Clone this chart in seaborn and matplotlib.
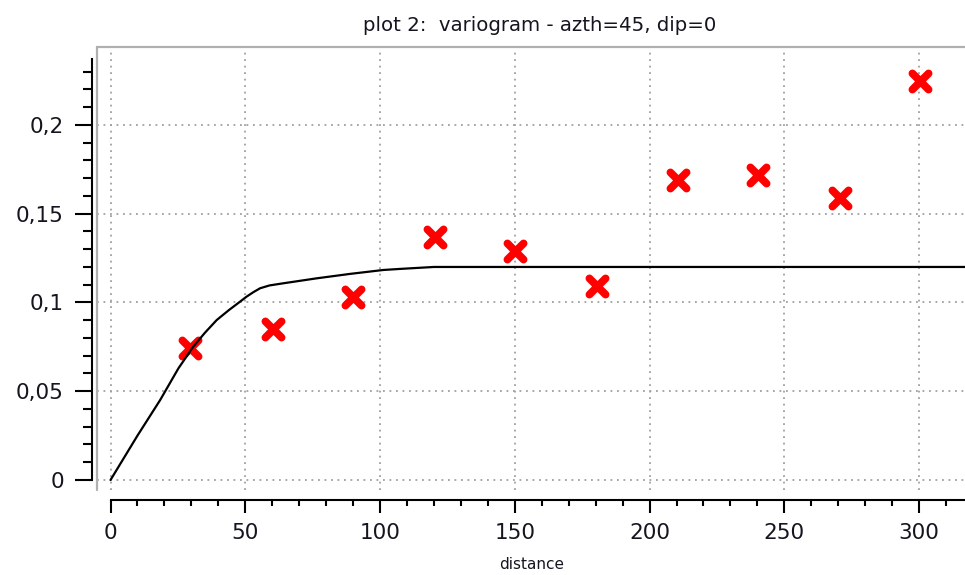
import numpy as np
import matplotlib
matplotlib.use("Agg")
import matplotlib.pyplot as plt
import seaborn as sns
from matplotlib.lines import Line2D
from matplotlib.ticker import FixedLocator, MultipleLocator

# experimental variogram points (lag distance, semivariance)
lag_distance = [29.6, 60.3, 90.1, 120.4, 150.2, 180.6, 210.5, 240.3, 270.6, 300.4]
semivariance = [0.0744, 0.0851, 0.1031, 0.1369, 0.1290, 0.1093, 0.1690, 0.1718, 0.1589, 0.2248]

# fitted variogram model
model_distance = [0, 10, 18.4, 25.2, 30.7, 35.0, 39.4, 44.0, 48.1, 50.5, 53.0, 55.5,
                  59.0, 64.1, 76.5, 88.9, 101.2, 107.4, 120, 330]
model_gamma = [0, 0.025, 0.045, 0.0629, 0.0751, 0.0829, 0.0901, 0.0958, 0.1005,
               0.1033, 0.1058, 0.1080, 0.1096, 0.1108, 0.1136, 0.1161, 0.1183,
               0.1189, 0.12, 0.12]

x_ticks = [0, 50, 100, 150, 200, 250, 300]
x_tick_labels = ["0", "50", "100", "150", "200", "250", "300"]
y_ticks = [0, 0.05, 0.1, 0.15, 0.2]
y_tick_labels = ["0", "0,05", "0,1", "0,15", "0,2"]

title = "plot 2:  variogram - azth=45, dip=0"
x_label = "distance"

sns.set_theme(style="white")
plt.rcParams["font.family"] = ["DejaVu Sans"]

W, H = 965, 575
fig = plt.figure(figsize=(W / 100, H / 100), dpi=100)
ax = fig.add_axes([97 / W, (H - 490) / H, 886 / W, 443 / H])

sns.scatterplot(x=lag_distance, y=semivariance, marker="x", s=135, color="#ff0000",
                linewidth=5.6, ax=ax, zorder=3, legend=False)
ax.collections[-1].set_capstyle("round")
sns.lineplot(x=model_distance, y=model_gamma, color="black", linewidth=1.6,
             estimator=None, ax=ax, zorder=4)

ax.set_xlim(-5.01, 323.7)
ax.set_ylim(-0.00563, 0.2439)

# scale axes detached from the canvas
ax.spines["top"].set_visible(False)
ax.spines["right"].set_visible(False)
ax.spines["left"].set_position(("outward", 3.6))
ax.spines["left"].set_bounds(0, 0.237)
ax.spines["bottom"].set_position(("outward", 7.2))
ax.spines["bottom"].set_bounds(0, 323.7)
for side in ("left", "bottom"):
    ax.spines[side].set_color("black")
    ax.spines[side].set_linewidth(1.5)

ax.set_xticks(x_ticks, x_tick_labels)
ax.set_yticks(y_ticks, y_tick_labels)
ax.xaxis.set_minor_locator(MultipleLocator(10))
ax.yaxis.set_minor_locator(FixedLocator(np.arange(0, 0.235, 0.01)))
ax.tick_params(axis="both", which="both", direction="out", color="black",
               width=1.5, labelcolor="#151520", labelsize=15.5)
ax.tick_params(axis="y", which="major", length=12.2, pad=8, left=True)
ax.tick_params(axis="y", which="minor", length=6.5, left=True)
ax.tick_params(axis="x", which="major", length=9.4, pad=7, bottom=True)
ax.tick_params(axis="x", which="minor", length=4.3, bottom=True)

ax.grid(True, which="major", color="#a0a0a0", linestyle=(0, (1, 2.6)), linewidth=1.3)
ax.set_axisbelow(True)

# canvas frame (left and top edges)
for xs, ys in (([0, 0], [0, 1]), ([0, 1], [1, 1])):
    ax.add_line(Line2D(xs, ys, transform=ax.transAxes, color="#b0b0b0",
                       linewidth=1.6, clip_on=False, zorder=5))

ax.set_xlabel("")
ax.set_ylabel("")
fig.text(540 / W, 1 - 31 / H, title, ha="center", va="baseline",
         fontsize=14.2, color="#151520")
fig.text(532 / W, 1 - 569 / H, x_label, ha="center", va="baseline",
         fontsize=11.0, color="#151520")

fig.savefig("out.png", dpi=100)
